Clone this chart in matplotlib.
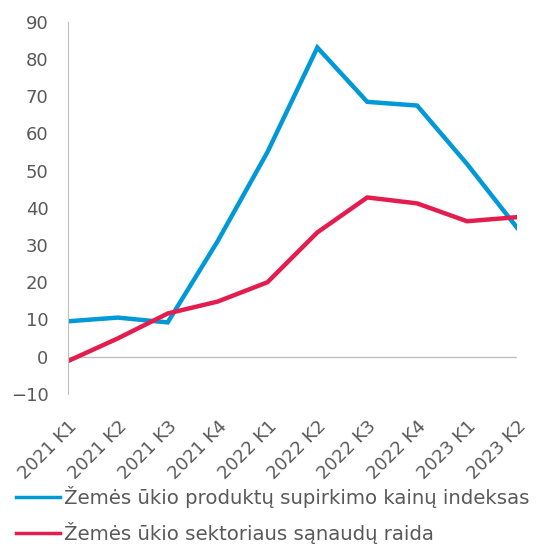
import matplotlib.pyplot as plt
import numpy as np

quarters = ['2021 K1', '2021 K2', '2021 K3', '2021 K4', '2022 K1',
            '2022 K2', '2022 K3', '2022 K4', '2023 K1', '2023 K2']
kainu_indeksas = [9.5, 10.5, 9.2, 31.0, 55.0, 83.1, 68.5, 67.5, 51.8, 34.7]
sanaudu_raida = [-1.2, 4.9, 11.6, 14.8, 20.0, 33.4, 42.8, 41.2, 36.4, 37.5]

blue = '#0099D8'
red = '#E31E4F'
txt = '#595959'

fig = plt.figure(figsize=(5.39, 5.47), dpi=100)
ax = fig.add_axes([0.126, 0.280, 0.833, 0.680])

x = np.arange(len(quarters))
ax.plot(x, kainu_indeksas, color=blue, lw=3.2, solid_joinstyle='miter',
        label='Žemės ūkio produktų supirkimo kainų indeksas')
ax.plot(x, sanaudu_raida, color=red, lw=3.2, solid_joinstyle='miter',
        label='Žemės ūkio sektoriaus sąnaudų raida')

ax.set_xlim(0, len(quarters) - 1)
ax.set_ylim(-10, 90)
ax.set_yticks(np.arange(-10, 91, 10))
ax.set_yticklabels(['−10'] + [str(v) for v in range(0, 91, 10)])
ax.set_xticks(x)
ax.set_xticklabels(quarters, rotation=45, ha='right', va='top', rotation_mode='anchor')

ax.axhline(0, color='#BFBFBF', lw=1, zorder=0)
for s in ['top', 'right', 'bottom']:
    ax.spines[s].set_visible(False)
ax.spines['left'].set_color('#BFBFBF')
ax.tick_params(axis='both', length=0, labelsize=13, colors=txt)
ax.tick_params(axis='y', pad=14)
ax.tick_params(axis='x', pad=17)

leg = fig.legend(loc='upper left', bbox_to_anchor=(0.03, 0.112), frameon=False,
                 fontsize=14.2, labelcolor=txt, handlelength=2.2, handletextpad=0.25,
                 labelspacing=0.7, borderaxespad=0, borderpad=0)
for line in leg.get_lines():
    line.set_linewidth(2.5)

fig.savefig('out.png', dpi=100)
